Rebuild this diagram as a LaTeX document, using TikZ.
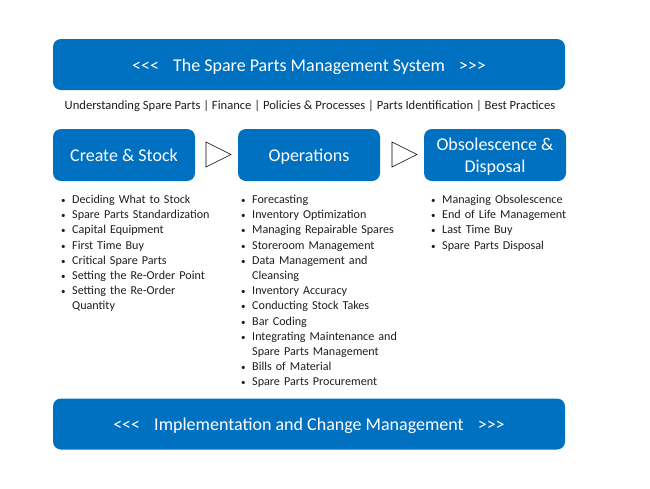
\documentclass[tikz,border=0pt]{standalone}
\usepackage{fontspec}
\setmainfont{Carlito}[Ligatures=TeXOff]
\usepackage{enumitem}
\definecolor{sysblue}{RGB}{0,112,192}
\definecolor{listgray}{RGB}{30,30,30}
\tikzset{
  banner/.style={fill=sysblue, rounded corners=8pt, minimum width=512pt, minimum height=51pt, text=white, text height=12pt, text depth=0pt, font=\fontsize{18}{21}\selectfont},
  stagebox/.style={fill=sysblue, rounded corners=8pt, minimum width=142pt, minimum height=52pt, text=white, align=center, font=\fontsize{18}{21.5}\selectfont},
  topiclist/.style={anchor=north west, inner sep=0pt, text width=190pt, text=listgray, font=\fontsize{12.1}{15.2}\selectfont},
  nextmark/.style={draw=black, line width=0.6pt}
}
\newcommand{\topics}[1]{\begin{itemize}[leftmargin=10pt,labelsep=6.5pt,itemsep=0pt,topsep=0pt,parsep=0pt,partopsep=0pt,label={\small\textbullet}]#1\end{itemize}}
\begin{document}
\begin{tikzpicture}[x=1pt,y=-1pt]
\useasboundingbox (0,0) rectangle (650,488);

% top banner and subjects
\node[banner, text height=13pt] (system) at (309,64.5) {<<<\hspace{10pt} The Spare Parts Management System \hspace{10pt}>>>};
\node[text=listgray, font=\fontsize{12.6}{15}\selectfont] (subjects) at (310,106.5)
  {Understanding Spare Parts | Finance | Policies \& Processes | Parts Identification | Best Practices};

% stages
\node[stagebox, text height=12pt, text depth=0pt] (create) at (124,155) {Create \& Stock};
\node[stagebox, text height=12pt, text depth=0pt] (operations) at (309,155) {Operations};
\node[stagebox, font=\fontsize{18}{22}\selectfont, text depth=0pt] (obsolete) at (495,155) {Obsolescence \&\\Disposal};

\draw[nextmark] (206,142) -- (231,154.5) -- (206,167) -- cycle;
\draw[nextmark] (392,142) -- (417,154.5) -- (392,167) -- cycle;

% topic lists
\node[topiclist] (createlist) at (62,188) {\topics{
  \item Deciding What to Stock
  \item Spare Parts Standardization
  \item Capital Equipment
  \item First Time Buy
  \item Critical Spare Parts
  \item Setting the Re-Order Point
  \item Setting the Re-Order\\Quantity}};
\node[topiclist] (operationslist) at (242,188) {\topics{
  \item Forecasting
  \item Inventory Optimization
  \item Managing Repairable Spares
  \item Storeroom Management
  \item Data Management and\\Cleansing
  \item Inventory Accuracy
  \item Conducting Stock Takes
  \item Bar Coding
  \item Integrating Maintenance and\\Spare Parts Management
  \item Bills of Material
  \item Spare Parts Procurement}};
\node[topiclist] (obsoletelist) at (432,188) {\topics{
  \item Managing Obsolescence
  \item End of Life Management
  \item Last Time Buy
  \item Spare Parts Disposal}};

% bottom banner
\node[banner] (change) at (309,424) {<<<\hspace{10pt} Implementation and Change Management \hspace{10pt}>>>};
\end{tikzpicture}
\end{document}
